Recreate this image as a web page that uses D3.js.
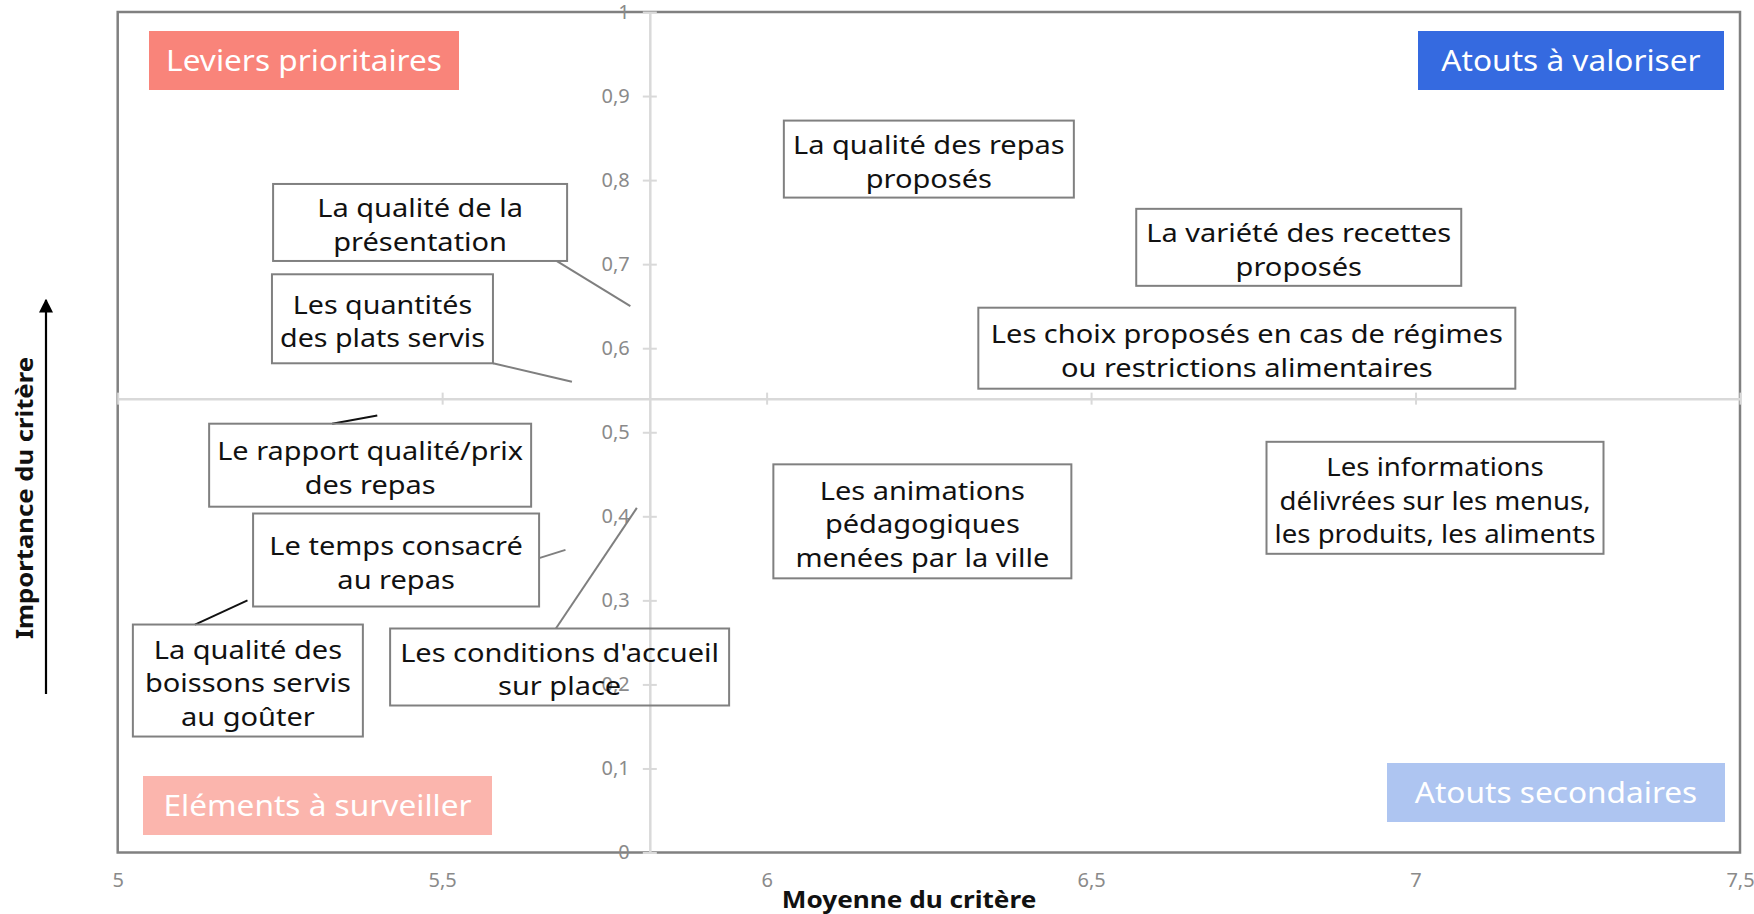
<!DOCTYPE html>
<html><head><meta charset="utf-8">
<script src="https://cdn.jsdelivr.net/npm/d3@7/dist/d3.min.js"></script>
<style>body{margin:0;background:#fff;} svg{display:block;}</style>
</head><body>
<svg id="chart" width="1754" height="914"></svg>
<script>
// ---------- DATA ----------
const criteria = [
  "La qualité de la présentation",
  "Les quantités des plats servis",
  "Le rapport qualité/prix des repas",
  "Le temps consacré au repas",
  "La qualité des boissons servis au goûter",
  "Les conditions d'accueil sur place",
  "La qualité des repas proposés",
  "La variété des recettes proposés",
  "Les choix proposés en cas de régimes ou restrictions alimentaires",
  "Les animations pédagogiques menées par la ville",
  "Les informations délivrées sur les menus, les produits, les aliments"
];
const moyenne    = [5.79, 5.70, 5.40, 5.69, 5.20, 5.80, 6.25, 6.82, 6.74, 6.24, 7.03];
const importance = [0.65, 0.56, 0.52, 0.36, 0.30, 0.41, 0.825, 0.72, 0.60, 0.394, 0.422];
const labelLines = [
  ["La qualité de la", "présentation"],
  ["Les quantités", "des plats servis"],
  ["Le rapport qualité/prix", "des repas"],
  ["Le temps consacré", "au repas"],
  ["La qualité des", "boissons servis", "au goûter"],
  ["Les conditions d'accueil", "sur place"],
  ["La qualité des repas", "proposés"],
  ["La variété des recettes", "proposés"],
  ["Les choix proposés en cas de régimes", "ou restrictions alimentaires"],
  ["Les animations", "pédagogiques", "menées par la ville"],
  ["Les informations", "délivrées sur les menus,", "les produits, les aliments"]
];
const xTicks = [5, 5.5, 6, 6.5, 7, 7.5];
const yTicks = [0, 0.1, 0.2, 0.3, 0.4, 0.5, 0.6, 0.7, 0.8, 0.9, 1];
const xCross = 5.82;   // moyenne où l'axe vertical coupe
const yCross = 0.54;   // importance où l'axe horizontal coupe
const quadrantNames = ["Leviers prioritaires", "Atouts à valoriser", "Eléments à surveiller", "Atouts secondaires"];
const xTitle = "Moyenne du critère";
const yTitle = "Importance du critère";

// ---------- LAYOUT / STYLE ----------
// label box centre (in data units, null = centred on the point)
const labelPos = [[5.466,0.7496],[5.408,0.635],[5.389,0.4608],[5.429,0.348],[5.2006,0.2046],[5.681,0.2207],null,null,null,null,null];
const labelSize = [[294,77],[221,89],[322,83],[286,93],[230,112],[339,77],[290,77],[325,77],[537,81],[298,114],[337,112]];
const leaderAnchor = [[0.964,1],[1,1],[0.382,0],[1,0.48],[0.27,0],[0.489,0],null,null,null,null,null];
const leaderColor = ["#7f7f7f","#7f7f7f","#111","#7f7f7f","#111","#7f7f7f"];
const quadColors = ["#F9847A","#356AE0","#FBB5AD","#AEC5F1"];
const quadBoxes = [[149,31,310,59],[1418,31,306,59],[143,776,349,59],[1387,763,338,59]];

const plot = {left:117.7, right:1740, top:12, bottom:852.5};
const svg = d3.select("#chart");
const FONT = "'Noto Sans', sans-serif";
const STRETCH = 1.16;

const x = d3.scaleLinear().domain([5, 7.5]).range([plot.left, plot.right]);
const y = d3.scaleLinear().domain([0, 1]).range([plot.bottom, plot.top]);
const fmt = d => String(d).replace(".", ",");

// frame
svg.append("rect").attr("x", plot.left).attr("y", plot.top)
  .attr("width", plot.right - plot.left).attr("height", plot.bottom - plot.top)
  .attr("fill", "none").attr("stroke", "#808080").attr("stroke-width", 2.5);

// horizontal crossing axis (tick marks only)
const gx = svg.append("g").attr("transform", `translate(0,${y(yCross)})`)
  .call(d3.axisBottom(x).tickValues(xTicks).tickSize(6).tickSizeOuter(0).tickFormat(""));
gx.select(".domain").attr("stroke", "#d9d9d9").attr("stroke-width", 2.5);
gx.selectAll(".tick line").attr("stroke", "#d9d9d9").attr("stroke-width", 2).attr("y1", -6).attr("y2", 6);

// x tick labels at bottom
const gxl = svg.append("g").attr("transform", `translate(0,${plot.bottom})`)
  .call(d3.axisBottom(x).tickValues(xTicks).tickSize(0).tickPadding(20).tickFormat(fmt));
gxl.select(".domain").remove();
gxl.selectAll("text").attr("font-family", FONT).attr("font-size", 20).attr("fill", "#8a8a8a");

// vertical crossing axis
const gy = svg.append("g").attr("transform", `translate(${x(xCross)},0)`)
  .call(d3.axisLeft(y).tickValues(yTicks).tickSize(7).tickSizeOuter(0).tickPadding(13).tickFormat(fmt));
gy.select(".domain").attr("stroke", "#d9d9d9").attr("stroke-width", 2.5);
gy.selectAll(".tick line").attr("stroke", "#d9d9d9").attr("stroke-width", 2).attr("x1", -7).attr("x2", 7);
gy.selectAll("text").attr("font-family", FONT).attr("font-size", 20).attr("fill", "#8a8a8a");

// quadrant labels
quadrantNames.forEach((q, i) => {
  const [bx, by, bw, bh] = quadBoxes[i];
  svg.append("rect").attr("x", bx).attr("y", by).attr("width", bw).attr("height", bh).attr("fill", quadColors[i]);
  svg.append("text").attr("transform", `translate(${bx + bw/2},${by + bh/2}) scale(1.09,1)`)
    .attr("dy", "0.35em")
    .attr("text-anchor", "middle").attr("font-family", FONT).attr("font-size", 29)
    .attr("fill", "#fff").text(q);
});

// data labels with leader lines
criteria.forEach((c, i) => {
  const px = x(moyenne[i]), py = y(importance[i]);
  const cx = labelPos[i] ? x(labelPos[i][0]) : px;
  const cy = labelPos[i] ? y(labelPos[i][1]) : py;
  const [bw, bh] = labelSize[i];
  const bx = cx - bw/2, by = cy - bh/2;
  if (leaderAnchor[i]) {
    svg.append("line")
      .attr("x1", bx + leaderAnchor[i][0]*bw).attr("y1", by + leaderAnchor[i][1]*bh)
      .attr("x2", px).attr("y2", py)
      .attr("stroke", leaderColor[i]).attr("stroke-width", 2);
  }
  svg.append("rect").attr("x", bx).attr("y", by).attr("width", bw).attr("height", bh)
    .attr("fill", "none").attr("stroke", "#808080").attr("stroke-width", 2);
  const lines = labelLines[i];
  const lh = 33.5;
  const t = svg.append("text").attr("text-anchor", "middle").attr("font-family", FONT)
    .attr("font-size", 25).attr("fill", "#111");
  const spans = lines.map((l, k) => t.append("tspan").attr("x", 0)
      .attr("y", 3 + (k - (lines.length - 1)/2) * lh).attr("dy", "0.35em").text(l));
  const maxLen = d3.max(spans, s => s.node().getComputedTextLength());
  const k = Math.min(STRETCH, (bw - 16) / maxLen);
  t.attr("transform", `translate(${cx},${cy}) scale(${k},1)`);
});

// axis titles
svg.append("text").attr("transform", "translate(909,900) scale(1.09,1)").attr("dy", "0.35em").attr("text-anchor", "middle")
  .attr("font-family", FONT).attr("font-weight", "bold").attr("font-size", 24).attr("fill", "#111").text(xTitle);
svg.append("text").attr("transform", "translate(25,498) rotate(-90) scale(1.07,1)").attr("dy", "0.35em")
  .attr("text-anchor", "middle").attr("font-family", FONT).attr("font-weight", "bold")
  .attr("font-size", 24).attr("fill", "#111").text(yTitle);

// arrow next to y title
svg.append("defs").append("marker").attr("id", "arr").attr("viewBox", "0 0 10 10")
  .attr("refX", 9).attr("refY", 5).attr("markerWidth", 14).attr("markerHeight", 16)
  .attr("markerUnits", "userSpaceOnUse").attr("orient", "auto")
  .append("path").attr("d", "M0,0L10,5L0,10Z").attr("fill", "#000");
svg.append("line").attr("x1", 46).attr("y1", 694).attr("x2", 46).attr("y2", 300)
  .attr("stroke", "#000").attr("stroke-width", 2.2).attr("marker-end", "url(#arr)");
</script>
</body></html>
